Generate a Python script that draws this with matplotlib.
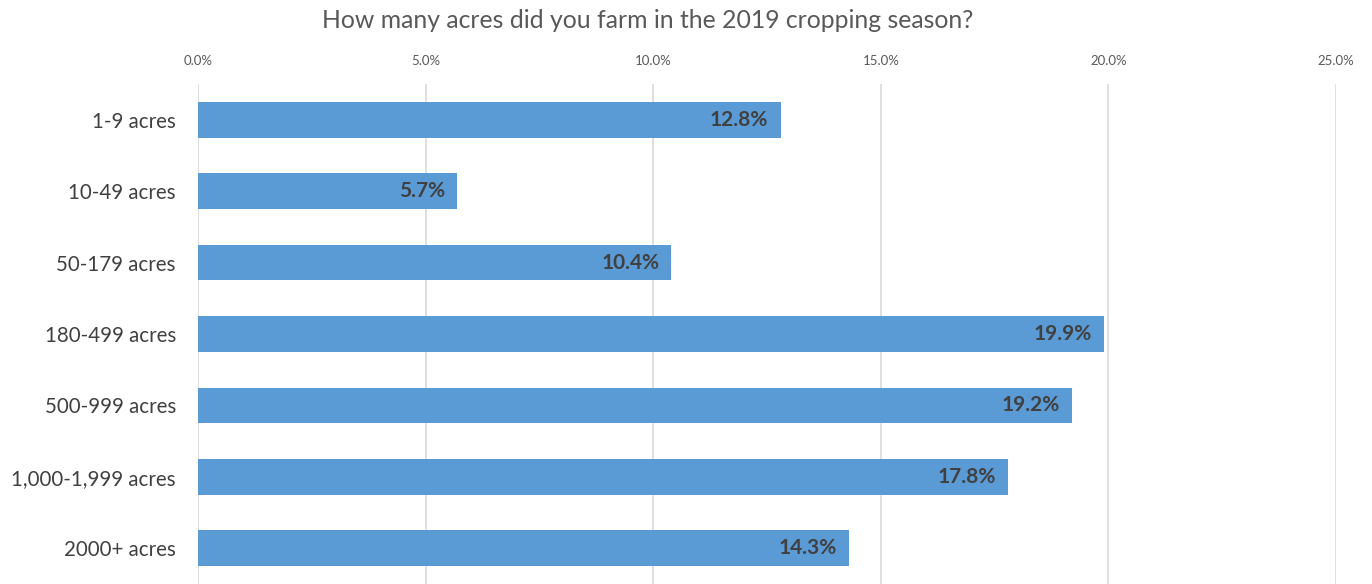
import matplotlib
matplotlib.use('Agg')
from matplotlib import pyplot as plt

categorias = ['1-9 acres', '10-49 acres', '50-179 acres', '180-499 acres',
              '500-999 acres', '1,000-1,999 acres', '2000+ acres']
valores = [12.8, 5.7, 10.4, 19.9, 19.2, 17.8, 14.3]
ticks = [0, 5, 10, 15, 20, 25]

plt.rcParams['font.family'] = ['Lato', 'DejaVu Sans']

fig = plt.figure(figsize=(13.72, 5.84), dpi=100)
ax = fig.add_axes([198 / 1372, 0.0, (1336 - 198) / 1372, 1 - 84 / 584])

y = list(range(len(categorias)))
ax.barh(y, valores, height=0.5, color='#5B9BD5', zorder=2)

# etiquetas dentro de las barras
for i, v in enumerate(valores):
    ax.text(v - 0.27, i, f'{v:.1f}%', ha='right', va='center',
            fontsize=15, fontweight='bold', color='#404040', zorder=3)

ax.set_xlim(0, 25)
ax.set_ylim(len(categorias) - 0.5, -0.5)
ax.set_xticks(ticks)
ax.set_xticklabels([f'{t:.1f}%' for t in ticks], fontsize=9.5, color='#595959')
ax.xaxis.tick_top()
ax.tick_params(axis='x', length=0, pad=12)
ax.set_yticks(y)
ax.set_yticklabels(categorias, fontsize=14.8, color='#404040')
ax.tick_params(axis='y', length=0, pad=16)
ax.grid(axis='x', color='#D9D9D9', linewidth=1.2, zorder=0)
for s in ax.spines.values():
    s.set_visible(False)

fig.text(648 / 1372, 1 - 21 / 584, 'How many acres did you farm in the 2019 cropping season?',
         ha='center', va='center', fontsize=17.8, color='#595959')

plt.savefig('out.png', dpi=100)
